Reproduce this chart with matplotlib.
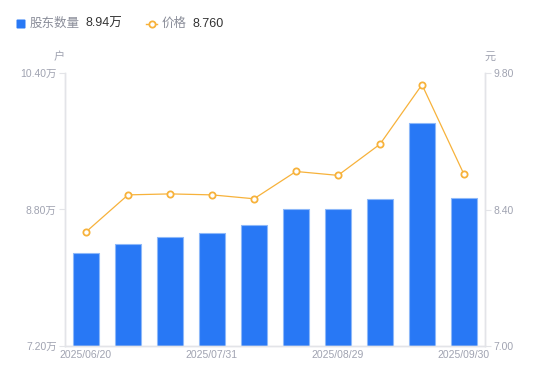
import matplotlib
matplotlib.use("Agg")
import matplotlib.pyplot as plt
from matplotlib.patches import FancyBboxPatch
from matplotlib.lines import Line2D

plt.rcParams['font.family'] = ['Liberation Sans', 'Noto Sans CJK SC', 'DejaVu Sans']

dates = ["2025/06/20", "2025/06/30", "2025/07/10", "2025/07/31", "2025/08/10",
         "2025/08/20", "2025/08/29", "2025/09/10", "2025/09/20", "2025/09/30"]
holders = [8.29, 8.39, 8.48, 8.52, 8.62, 8.81, 8.81, 8.92, 9.81, 8.94]  # 万户
price = [8.17, 8.55, 8.56, 8.55, 8.51, 8.79, 8.75, 9.07, 9.68, 8.76]
left_ticks = [7.20, 8.80, 10.40]
right_ticks = [7.00, 8.40, 9.80]
shown_idx = [0, 3, 6, 9]

BLUE = "#2878F5"
EDGE = "#8DB8F9"
ORANGE = "#F7B23B"
GRAY = "#A0A3B1"
AXC = "#E3E4E8"

fig = plt.figure(figsize=(5.5, 3.81), dpi=100)
ax = fig.add_axes([65/550, 1-346/381, 420/550, 273/381])
x = list(range(len(dates)))
ax.bar(x, [h - left_ticks[0] for h in holders], bottom=left_ticks[0], width=0.6,
       color=BLUE, edgecolor=EDGE, linewidth=0.8, zorder=2)
ax.set_xlim(-0.5, len(dates) - 0.5)
ax.set_ylim(left_ticks[0], left_ticks[-1])
ax.set_yticks(left_ticks)
ax.set_yticklabels([f"{t:.2f}万" for t in left_ticks])
ax.set_xticks([x[i] for i in shown_idx])
ax.set_xticklabels([dates[i] for i in shown_idx])

ax2 = ax.twinx()
ax2.plot(x, price, color=ORANGE, linewidth=0.9, marker='o', markersize=4.5,
         markerfacecolor='white', markeredgecolor=ORANGE, markeredgewidth=1.3, zorder=3)
ax2.set_ylim(right_ticks[0], right_ticks[-1])
ax2.set_yticks(right_ticks)
ax2.set_yticklabels([f"{t:.2f}" for t in right_ticks])

for a in (ax, ax2):
    for s in a.spines.values():
        s.set_color(AXC)
        s.set_linewidth(1.0)
    a.spines['top'].set_visible(False)
    a.tick_params(axis='y', colors=AXC, labelcolor=GRAY, labelsize=7.5, length=4, width=0.8, pad=2)
    a.tick_params(axis='x', length=0, labelcolor=GRAY, labelsize=7.5, pad=3)

fig.text(59/550, 1-57/381, "户", color=GRAY, fontsize=8, ha='center', va='center')
fig.text(490/550, 1-57/381, "元", color=GRAY, fontsize=8, ha='center', va='center')

# legend
fig.patches.append(FancyBboxPatch((16.5/550, 1-28.5/381), 9/550, 9/381,
                                  boxstyle="round,pad=0.0,rounding_size=0.002",
                                  transform=fig.transFigure, facecolor=BLUE, edgecolor='none'))
fig.text(30/550, 1-24/381, "股东数量", color="#8A8D99", fontsize=9, va='center')
fig.text(85/550, 1-24/381, f"{holders[-1]:.2f}万", color="#333333", fontsize=9, va='center')
fig.lines.append(Line2D([146/550, 157/550], [1-24/381, 1-24/381], transform=fig.transFigure,
                        color=ORANGE, linewidth=1.0))
fig.lines.append(Line2D([151.5/550], [1-24/381], transform=fig.transFigure, marker='o',
                        markersize=4.5, markerfacecolor='white', markeredgecolor=ORANGE,
                        markeredgewidth=1.3, linestyle='none'))
fig.text(162/550, 1-24/381, "价格", color="#8A8D99", fontsize=9, va='center')
fig.text(192/550, 1-24/381, f"{price[-1]:.3f}", color="#333333", fontsize=9, va='center')

fig.savefig("out.png", dpi=100)
